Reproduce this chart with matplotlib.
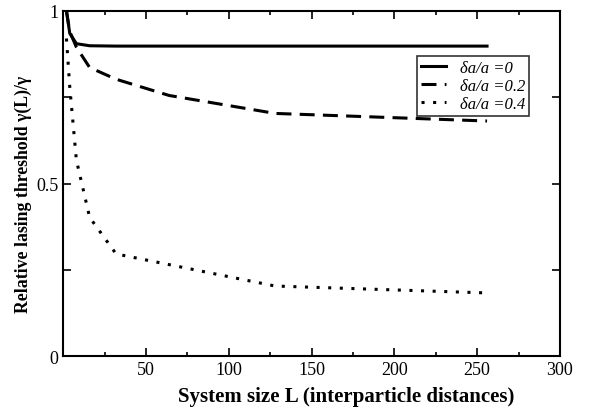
import matplotlib
matplotlib.use("Agg")
import matplotlib.pyplot as plt
from matplotlib.ticker import FixedLocator

# Data
L_vals = [2, 4, 8, 16, 32, 64, 128, 256]
thr_0 = [1.0, 0.935, 0.905, 0.899, 0.898, 0.898, 0.898, 0.898]
thr_02 = [1.0, 0.94, 0.895, 0.836, 0.802, 0.755, 0.703, 0.681]
thr_04 = [0.92, 0.78, 0.568, 0.402, 0.296, 0.265, 0.203, 0.183]
labels = ["δa/a =0", "δa/a =0.2", "δa/a =0.4"]
xticks = [50, 100, 150, 200, 250, 300]
yticks = [0, 0.5, 1]
yticklabels = ["0", "0.5", "1"]

plt.rcParams['font.family'] = ['Liberation Serif', 'DejaVu Serif']

fig = plt.figure(figsize=(5.9, 4.1), dpi=100)
ax = fig.add_axes([0.107, 0.129, 0.842, 0.842])

lw = 2.2
ax.plot(L_vals, thr_0, color='black', lw=lw, solid_joinstyle='round', label=labels[0])
ax.plot(L_vals, thr_02, color='black', lw=lw, linestyle=(0, (4.9, 2.7)), label=labels[1])
ax.plot(L_vals, thr_04, color='black', lw=lw, linestyle=(0, (1, 2.8)), label=labels[2])

ax.set_xlim(0, 300)
ax.set_ylim(0, 1)
ax.set_xticks(xticks)
ax.xaxis.set_minor_locator(FixedLocator([25, 75, 125, 175, 225, 275]))
ax.set_yticks(yticks)
ax.set_yticklabels(yticklabels)
ax.yaxis.set_minor_locator(FixedLocator([0.25, 0.75]))
ax.tick_params(which='both', direction='in', top=True, right=True, labelsize=13, width=1.2)
ax.tick_params(which='major', length=6)
ax.tick_params(axis='x', which='minor', length=3)
ax.tick_params(axis='y', which='minor', length=6)
for s in ax.spines.values():
    s.set_linewidth(1.5)

ax.set_xlabel("System size L (interparticle distances)", fontsize=15, fontweight='bold')
ax.set_ylabel("Relative lasing threshold γ(L)/γ", fontsize=12.8, fontweight='bold')
ax.xaxis.set_label_coords(0.569, -0.087)
ax.yaxis.set_label_coords(-0.062, 0.47)

leg = ax.legend(loc='upper right', bbox_to_anchor=(0.938, 0.870),
                prop={'size': 12, 'style': 'italic', 'family': 'Liberation Serif'},
                handlelength=1.5, handletextpad=0.8, labelspacing=0.12,
                borderpad=0.25, fancybox=False, frameon=True, borderaxespad=0)
leg.get_frame().set_edgecolor('black')
leg.get_frame().set_linewidth(1.2)

fig.savefig("out.png", dpi=100)
